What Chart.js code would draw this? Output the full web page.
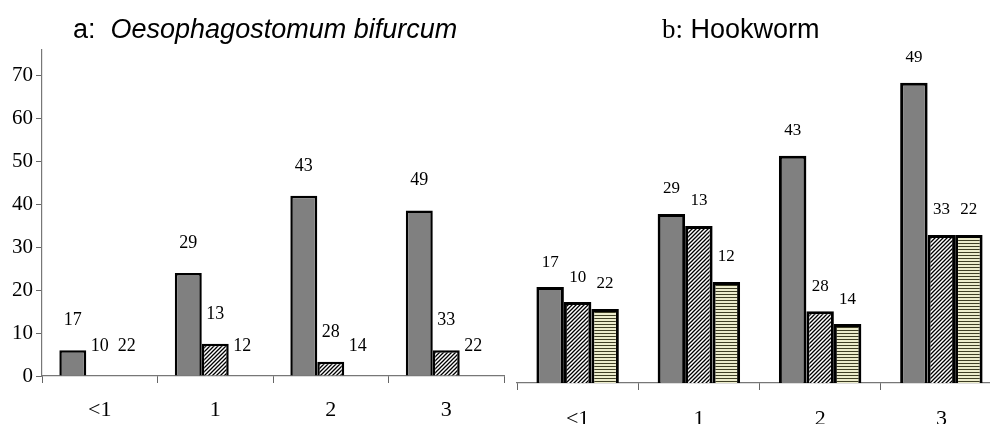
<!DOCTYPE html>
<html>
<head>
<meta charset="utf-8">
<script src="https://cdn.jsdelivr.net/npm/chart.js@4.4.1/dist/chart.umd.min.js"></script>
<style>
  html, body { margin: 0; padding: 0; background: #fff; width: 990px; height: 424px; overflow: hidden; }
  .panel { position: absolute; top: 0; height: 424px; }
  .title { position: absolute; top: 13px; font-family: "Liberation Sans", Arial, sans-serif; font-size: 27px; color: #000; white-space: nowrap; line-height: 32px; }
</style>
</head>
<body>
<div class="panel" style="left:0;width:505px"><canvas id="chartA" width="505" height="424"></canvas></div>
<div class="panel" style="left:505px;width:497px"><canvas id="chartB" width="497" height="424"></canvas></div>
<div class="title" id="titleA" style="left:73px">a:&nbsp; <i>Oesophagostomum bifurcum</i></div>
<div class="title" id="titleB" style="left:662px"><span style="font-family:'Liberation Serif',serif">b:</span> Hookworm</div>
<script>
const categories = ["<1", "1", "2", "3"];
const yTicks = [0, 10, 20, 30, 40, 50, 60, 70];

// a: Oesophagostomum bifurcum
const oesoSolid = [6, 24, 42, 38.6];
const oesoHatched = [0, 7.5, 3.3, 6];
const oesoStriped = [0, 0, 0, 0];

// b: Hookworm
const hookSolid = [22.3, 39.3, 52.8, 69.8];
const hookHatched = [18.8, 36.5, 16.7, 34.4];
const hookStriped = [17.2, 23.5, 13.7, 34.4];

// numbers written above the bars
const nSolid = [17, 29, 43, 49];
const nHatched = [10, 13, 28, 33];
const nStriped = [22, 12, 14, 22];

function hatchPattern(ctx) {
    const c = document.createElement("canvas");
    c.width = 4; c.height = 4;
    const g = c.getContext("2d");
    g.fillStyle = "#fff";
    g.fillRect(0, 0, 4, 4);
    g.strokeStyle = "#000";
    g.lineWidth = 1.3;
    g.beginPath();
    g.moveTo(-1, 5); g.lineTo(5, -1);
    g.moveTo(-1, 1); g.lineTo(1, -1);
    g.moveTo(3, 5); g.lineTo(5, 3);
    g.stroke();
    return ctx.createPattern(c, "repeat");
}

function stripePattern(ctx) {
    const c = document.createElement("canvas");
    c.width = 4; c.height = 3;
    const g = c.getContext("2d");
    g.fillStyle = "#ececcc";
    g.fillRect(0, 0, 4, 3);
    g.fillStyle = "#3e3e24";
    g.fillRect(0, 0, 4, 1);
    return ctx.createPattern(c, "repeat");
}

const countLabels = {
    id: "countLabels",
    afterDatasetsDraw(chart, args, opts) {
        const ctx = chart.ctx;
        const counts = [nSolid, nHatched, nStriped];
        ctx.save();
        ctx.fillStyle = "#000";
        ctx.font = opts.size + "px 'Liberation Serif', serif";
        ctx.textAlign = "center";
        ctx.textBaseline = "middle";
        chart.data.datasets.forEach((ds, i) => {
            const meta = chart.getDatasetMeta(i);
            meta.data.forEach((bar, j) => {
                ctx.fillText(counts[i][j], bar.x, bar.y - opts.offset);
            });
        });
        ctx.restore();
    }
};

function makeChart(id, solid, hatched, striped, o) {
    const ctx = document.getElementById(id).getContext("2d");
    return new Chart(ctx, {
        type: "bar",
        data: {
            labels: categories,
            datasets: [
                { data: solid, backgroundColor: "#808080", borderColor: "#000", borderWidth: o.border },
                { data: hatched, backgroundColor: hatchPattern(ctx), borderColor: "#000", borderWidth: o.border },
                { data: striped, backgroundColor: stripePattern(ctx), borderColor: "#000", borderWidth: o.border }
            ]
        },
        options: {
            responsive: false,
            animation: false,
            categoryPercentage: o.catPct,
            barPercentage: 1,
            layout: { padding: o.padding },
            plugins: {
                legend: { display: false },
                tooltip: { enabled: false },
                countLabels: { offset: o.labelOffset, size: o.labelSize }
            },
            scales: {
                x: {
                    grid: { offset: true, drawOnChartArea: false, tickLength: 7, tickColor: "#666" },
                    border: { color: "#777", width: 1.2 },
                    ticks: { color: "#000", padding: o.xPad, font: { family: "'Liberation Serif', serif", size: 22 } },
                    afterFit(scale) { scale.height = o.xHeight; }
                },
                y: {
                    display: o.showY,
                    min: 0,
                    max: 76,
                    afterBuildTicks(scale) { scale.ticks = yTicks.map(v => ({ value: v })); },
                    grid: { drawOnChartArea: false, tickLength: 6, tickColor: "#666" },
                    border: { color: "#777", width: 1.2 },
                    ticks: { color: "#000", padding: 3, font: { family: "'Liberation Serif', serif", size: 21 } },
                    afterFit(scale) { scale.width = o.showY ? 42 : 0; }
                }
            }
        },
        plugins: [countLabels]
    });
}

makeChart("chartA", oesoSolid, oesoHatched, oesoStriped, {
    border: 2.5, catPct: 0.70, padding: { top: 50, right: 1, left: 0, bottom: 0 },
    xHeight: 48, xPad: 14, showY: true, labelOffset: 30, labelSize: 18
});

makeChart("chartB", hookSolid, hookHatched, hookStriped, {
    border: 3, catPct: 0.68, padding: { top: 56, right: 0, left: 12, bottom: 0 },
    xHeight: 41, xPad: 16, showY: false, labelOffset: 25, labelSize: 17
});
</script>
</body>
</html>
